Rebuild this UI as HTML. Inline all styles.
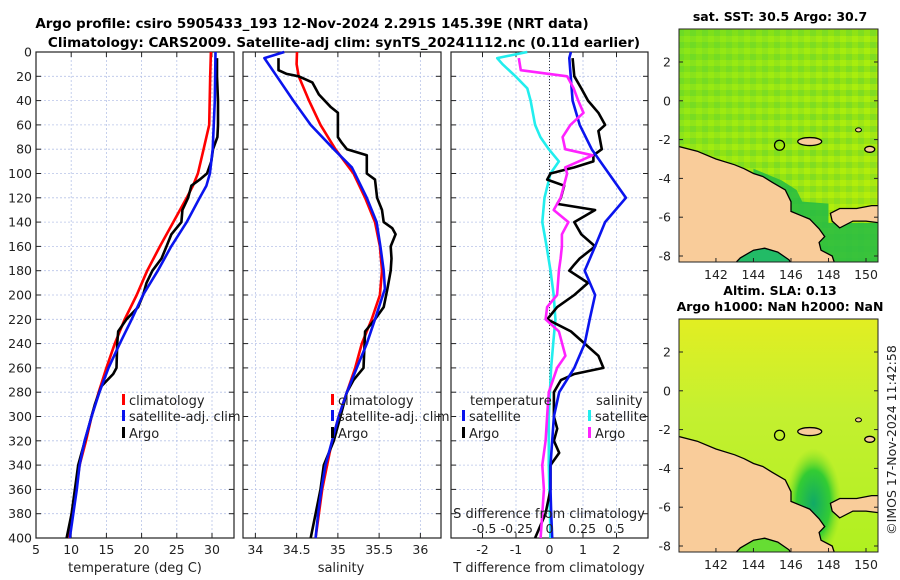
<!DOCTYPE html>
<html><head><meta charset="utf-8"><style>
body{margin:0;background:#fff}
svg{display:block;font-family:"DejaVu Sans","Liberation Sans",sans-serif}
</style></head><body>
<svg id="c" width="900" height="580" viewBox="0 0 900 580" xmlns="http://www.w3.org/2000/svg">
<defs>
<pattern id="sstpat" width="12" height="12" patternUnits="userSpaceOnUse">
<rect width="12" height="12" fill="#88e018"/><rect width="6" height="6" fill="#a6ee10"/><rect x="6" y="6" width="6" height="6" fill="#6fd82a"/><rect x="6" y="0" width="6" height="6" fill="#94e41c"/>
</pattern>
<linearGradient id="sstg" x1="0" y1="0" x2="1" y2="1"><stop offset="0" stop-color="#66dd22" stop-opacity="0.5"/><stop offset="0.6" stop-color="#bbee00" stop-opacity="0.2"/><stop offset="1" stop-color="#ddee00" stop-opacity="0.5"/></linearGradient>
<linearGradient id="slag" x1="0" y1="0" x2="0" y2="1"><stop offset="0" stop-color="#e2ee22"/><stop offset="0.4" stop-color="#c4f030"/><stop offset="1" stop-color="#b0f020"/></linearGradient>
<radialGradient id="slad" cx="0.5" cy="0.5" r="0.5"><stop offset="0" stop-color="#11aa66"/><stop offset="0.6" stop-color="#33cc33"/><stop offset="1" stop-color="#88e020" stop-opacity="0"/></radialGradient>
<clipPath id="cp1"><rect x="679" y="29" width="199" height="233"/></clipPath>
<clipPath id="cp2"><rect x="679" y="319" width="199" height="233"/></clipPath>
</defs>
<text x="312" y="28" text-anchor="middle" font-size="13.5" font-weight="bold">Argo profile: csiro 5905433_193 12-Nov-2024 2.291S 145.39E (NRT data)</text>
<text x="344" y="47" text-anchor="middle" font-size="13.5" font-weight="bold">Climatology: CARS2009. Satellite-adj clim: synTS_20241112.nc (0.11d earlier)</text>
<g id="g"></g>
</svg>
<script>
// depth values
const depthClim = [0,20,60,80,100,110,120,140,160,180,200,220,240,260,280,300,320,340,360,380,400];
const tempClim = [29.85,29.75,29.6,28.8,28,27.3,26.4,24.5,22.6,20.8,19.3,17.6,16.2,15.0,13.9,12.9,12.1,11.2,10.7,10.05,9.6];
const depthSat = [0,40,80,100,110,120,140,160,180,200,220,240,260,280,300,320,340,360,380,400];
const tempSat = [30.5,30.4,30.1,29.7,29.2,28.25,26.4,24.2,22.3,20.2,18.6,16.9,15.3,14.0,12.9,11.9,11.2,10.8,10.3,9.8];
const depthArgoT = [5,20,40,60,70,80,90,100,105,110,120,130,140,150,160,170,180,190,200,210,220,230,240,260,265,275,290,300,320,340,360,380,400];
const tempArgo = [30.71,30.71,30.85,30.85,30.76,30.14,29.9,29.29,28.25,27.07,26.6,25.8,25.65,24.23,23.53,22.82,21.54,20.69,20.22,19.5,17.85,16.67,16.53,16.44,15.96,14.31,13.36,12.89,11.95,11.0,10.53,10.06,9.35];
const depthSClim = [0,10,20,40,60,80,100,120,140,160,180,200,220,240,260,280,300,320,340,360,380,400];
const salClim = [34.505,34.5,34.525,34.65,34.79,34.97,35.19,35.33,35.45,35.51,35.535,35.51,35.41,35.29,35.21,35.11,35.01,34.93,34.87,34.81,34.77,34.73];
const depthSSat = [0,5,20,40,60,80,95,120,140,160,180,195,220,240,260,280,300,320,340,360,380,400];
const salSat = [34.35,34.11,34.26,34.46,34.67,34.95,35.17,35.35,35.47,35.515,35.555,35.57,35.45,35.35,35.23,35.11,35.01,34.93,34.85,34.8,34.76,34.73];
const depthSArgo = [5,15,18,20,25,35,45,50,70,75,80,85,100,105,120,130,140,145,150,160,170,180,195,210,220,230,260,270,280,300,320,340,360,380,400];
const salArgo = [34.28,34.28,34.38,34.525,34.69,34.77,34.91,35.0,35.0,35.05,35.11,35.35,35.35,35.45,35.475,35.535,35.555,35.66,35.70,35.64,35.65,35.64,35.6,35.555,35.45,35.33,35.31,35.19,35.11,35.03,34.95,34.83,34.79,34.73,34.67];
const depthDT = [0,5,40,60,80,100,120,140,160,180,200,220,240,260,280,300,320,340,360,380,400];
const tDiffSat = [0.64,0.59,0.69,0.9,1.26,1.77,2.28,1.66,1.36,1.05,1.36,1.2,1.05,0.74,0.29,0.13,0.08,0.03,0.03,0.05,0.08];
const depthDTA = [5,20,30,40,50,60,65,80,85,90,95,100,105,110,120,125,130,140,150,160,170,175,180,190,200,210,220,230,240,250,260,265,270,280,300,310,320,330,340,360,380,400];
const tDiffArgo = [0.69,0.74,0.95,1.15,1.46,1.66,1.46,1.56,1.31,1.31,0.74,0.03,-0.07,0.44,0.34,0.23,1.36,0.74,0.95,1.36,0.9,0.74,0.59,1.15,0.74,0.23,-0.07,0.64,1.05,1.46,1.61,0.74,0.34,0.13,0.13,0.23,0.13,0.29,0.03,0.03,-0.12,-0.43];
const depthDS = [0,5,10,20,30,40,60,70,80,90,100,120,140,160,180,200,220,240,260,280,300,340,400];
const sDiffSat = [-0.17,-0.4,-0.36,-0.26,-0.17,-0.145,-0.11,-0.07,-0.005,0.072,0.008,-0.038,-0.055,-0.022,0.008,0.032,0.045,0.028,0.012,0.003,-0.005,-0.005,0.008];
const depthDSA = [5,15,20,30,40,50,60,70,80,85,95,100,110,120,130,140,150,160,170,180,200,210,220,230,250,260,280,300,320,340,360,380,400];
const sDiffArgo = [-0.235,-0.22,0.135,0.185,0.22,0.26,0.16,0.1,0.12,0.33,0.12,0.135,0.11,0.085,0.032,0.145,0.095,0.095,0.085,0.072,0.058,-0.018,-0.03,0.072,0.122,0.058,-0.005,-0.018,-0.03,-0.055,-0.043,-0.055,-0.068];
const depthTicks = [0,20,40,60,80,100,120,140,160,180,200,220,240,260,280,300,320,340,360,380,400];
const tTicks = [5,10,15,20,25,30];
const sTicks = [34,34.5,35,35.5,36];
const dTicks = [-2,-1,0,1,2];
const sdTicks = [-0.5,-0.25,0,0.25,0.5];
const sdLabels = ["-0.5","-0.25","0","0.25","0.5"];
const latTicks = [2,0,-2,-4,-6,-8];
const lonTicks = [142,144,146,148,150];

const NS="http://www.w3.org/2000/svg";
const G=document.getElementById('g');
function mk(tag,attrs,parent){const e=document.createElementNS(NS,tag);for(const k in attrs)e.setAttribute(k,attrs[k]);(parent||G).appendChild(e);return e;}
function txt(x,y,s,size,anchor,parent){const e=mk('text',{x:x,y:y,'font-size':size,'text-anchor':anchor||'middle',fill:'#222'},parent);e.textContent=s;return e;}

const Y0=52,Y1=538;
const yD=d=>Y0+(d/400)*(Y1-Y0);
function panel(x0,x1,v0,v1,name){
  const xs=v=>x0+(v-v0)/(v1-v0)*(x1-x0);
  const g=mk('g',{});
  
  
  return {xs,g,x0,x1};
}
const P1=panel(36,234,5,33.125,'temperature-panel');
const P2=panel(243,441,33.85,36.25,'salinity-panel');
const P3=panel(451,648,-2.94,2.94,'difference-panel');
const sdx=s=>P3.xs(s*3.9);

function grid(P,ticks,labels,showY){
  ticks.forEach((t,i)=>{const x=P.xs(t);
    const l=mk('line',{x1:x,x2:x,y1:Y0,y2:Y1,stroke:'#b8c4e8','stroke-width':0.8,'stroke-dasharray':'2,2'},P.g);
    
    
    mk('line',{x1:x,x2:x,y1:Y1,y2:Y1-5,stroke:'#222'},P.g);mk('line',{x1:x,x2:x,y1:Y0,y2:Y0+5,stroke:'#222'},P.g);
    const tl=txt(x,554,labels?labels[i]:String(t),12.5,'middle',P.g);
    
    
  });
  depthTicks.forEach(d=>{const y=yD(d);
    mk('line',{x1:P.x0,x2:P.x1,y1:y,y2:y,stroke:'#b8c4e8','stroke-width':0.8,'stroke-dasharray':'2,2'},P.g);
    mk('line',{x1:P.x0,x2:P.x0+5,y1:y,y2:y,stroke:'#222'},P.g);mk('line',{x1:P.x1,x2:P.x1-5,y1:y,y2:y,stroke:'#222'},P.g);
    if(showY){const tl=txt(P.x0-4,y+4.5,String(d),12.5,'end',P.g);
      
      }
  });
  const fr=mk('rect',{x:P.x0,y:Y0,width:P.x1-P.x0,height:Y1-Y0,fill:'none',stroke:'#222','stroke-width':1.2},P.g);
  
  
}
grid(P1,tTicks,null,true);
grid(P2,sTicks,null,false);
grid(P3,dTicks,null,false);
mk('line',{x1:P3.xs(0),x2:P3.xs(0),y1:Y0,y2:Y1,stroke:'#333','stroke-width':1,'stroke-dasharray':'1,2'},P3.g);

function series(P,xf,depths,vals,color,name){
  const pts=depths.map((d,i)=>xf(vals[i]).toFixed(1)+','+yD(d).toFixed(1)).join(' ');
  const l=mk('polyline',{points:pts,fill:'none',stroke:color,'stroke-width':2.6,'stroke-linejoin':'round'},P.g);
  
  
}
series(P1,P1.xs,depthClim,tempClim,'#ff0000','temp-climatology-line');
series(P1,P1.xs,depthArgoT,tempArgo,'#000','temp-argo-line');
series(P1,P1.xs,depthSat,tempSat,'#0a14ee','temp-satellite-line');
series(P2,P2.xs,depthSClim,salClim,'#ff0000','sal-climatology-line');
series(P2,P2.xs,depthSArgo,salArgo,'#000','sal-argo-line');
series(P2,P2.xs,depthSSat,salSat,'#0a14ee','sal-satellite-line');
series(P3,sdx,depthDS,sDiffSat,'#22eeee','sdiff-satellite-line');
series(P3,P3.xs,depthDTA,tDiffArgo,'#000','tdiff-argo-line');
series(P3,P3.xs,depthDT,tDiffSat,'#0a14ee','tdiff-satellite-line');
series(P3,sdx,depthDSA,sDiffArgo,'#ff22ff','sdiff-argo-line');

// axis titles
[[135,'temperature (deg C)'],[341,'salinity'],[549,'T difference from climatology']].forEach(a=>{
  const t=txt(a[0],572,a[1],13);
  
  
});
const st=txt(549,518,'S difference from climatology',13);


sdTicks.forEach((s,i)=>{const t=txt(sdx(s),533,sdLabels[i],12.5);
  
  });

function legItem(x,y,color,label,P,name){
  mk('rect',{x:x,y:y-11,width:3,height:11,fill:color},P.g);
  const t=txt(x+7,y,label,13,'start',P.g);
  
  
}
legItem(122,405,'#ff0000','climatology',P1,'legend-climatology');
legItem(122,421,'#0a14ee','satellite-adj. clim',P1,'legend-satellite');
legItem(122,438,'#000','Argo',P1,'legend-argo');
legItem(331,405,'#ff0000','climatology',P2,'legend-climatology-sal');
legItem(331,421,'#0a14ee','satellite-adj. clim',P2,'legend-satellite-sal');
legItem(331,438,'#000','Argo',P2,'legend-argo-sal');
const lt=txt(470,405,'temperature',13,'start',P3.g);
const ls=txt(596,405,'salinity',13,'start',P3.g);
legItem(462,421,'#0a14ee','satellite',P3,'legend-tdiff-satellite');
legItem(462,438,'#000','Argo',P3,'legend-tdiff-argo');
legItem(588,421,'#22eeee','satellite',P3,'legend-sdiff-satellite');
legItem(588,438,'#ff22ff','Argo',P3,'legend-sdiff-argo');

// maps
const land=[[140,-2.35],[141,-2.6],[142,-3.0],[143,-3.3],[143.5,-3.5],[144,-3.75],[144.5,-3.9],[145,-4.2],[145.7,-4.6],[146,-5.2],[146,-5.7],[146.5,-5.9],[147,-6.1],[147.5,-6.6],[147.8,-7.0],[147.5,-7.3],[147.6,-7.7],[148.2,-8.0],[148.4,-8.6],[140,-8.6]];
const gulf=[[142.8,-8.6],[143.3,-8.1],[144,-7.7],[144.6,-7.6],[145.3,-7.8],[145.9,-8.2],[146.1,-8.6]];
const east=[[148.1,-5.8],[148.6,-5.55],[149.5,-5.55],[150.3,-5.4],[150.8,-5.4],[150.8,-6.3],[150,-6.2],[149.3,-6.2],[148.6,-6.55],[148.2,-6.2]];
function map(top,bottom,title,kind,name){
  const x0=679,x1=878,lonA=140.03,lonB=150.64;
  const latTop=2+(top-(kind?62:352))/(-19.4);
  const lx=l=>x0+(l-lonA)/(lonB-lonA)*(x1-x0);
  const ly=la=>top+(latTop-la)*19.4;
  const g=mk('g',{});
  
  
  const cg=mk('g',{'clip-path':kind?'url(#cp1)':'url(#cp2)'},g);
  if(kind){mk('rect',{x:x0,y:top,width:x1-x0,height:bottom-top,fill:'url(#sstpat)'},cg);
    mk('rect',{x:x0,y:top,width:x1-x0,height:bottom-top,fill:'url(#sstg)'},cg);
    mk('polygon',{points:[[144,-3.5],[145.5,-4.1],[146.3,-4.6],[146.6,-5.2],[148,-5.3],[148,-6.3],[150.7,-6.3],[150.7,-8.6],[144,-8.6]].map(p=>lx(p[0])+','+ly(p[1])).join(' '),fill:'#22bb44',opacity:0.85},cg);
  } else {mk('rect',{x:x0,y:top,width:x1-x0,height:bottom-top,fill:'url(#slag)'},cg);
    mk('ellipse',{cx:lx(147.2),cy:ly(-5.8),rx:28,ry:55,fill:'url(#slad)'},cg);}
  const poly=(pts,fill)=>mk('polygon',{points:pts.map(p=>lx(p[0]).toFixed(1)+','+ly(p[1]).toFixed(1)).join(' '),fill:fill,stroke:'#000','stroke-width':1.3},cg);
  poly(land,'#f9cc9a');
  poly(gulf,kind?'#22bb66':'#66dd33');
  poly(east,'#f9cc9a');
  mk('ellipse',{cx:lx(147),cy:ly(-2.1),rx:12,ry:4,fill:'#f9cc9a',stroke:'#000','stroke-width':1.3},cg);
  mk('ellipse',{cx:lx(150.2),cy:ly(-2.5),rx:5,ry:3,fill:'#f9cc9a',stroke:'#000','stroke-width':1.3},cg);
  mk('ellipse',{cx:lx(149.6),cy:ly(-1.5),rx:3,ry:2,fill:'#f9cc9a',stroke:'#000','stroke-width':1},cg);
  const c=mk('circle',{cx:lx(145.39),cy:ly(-2.291),r:5,fill:'none',stroke:'#000','stroke-width':1.3},cg);
  
  
  mk('rect',{x:x0,y:top,width:x1-x0,height:bottom-top,fill:'none',stroke:'#222'},g);
  latTicks.forEach(la=>{const y=ly(la);mk('line',{x1:x0,x2:x0+4,y1:y,y2:y,stroke:'#222'},g);mk('line',{x1:x1,x2:x1-4,y1:y,y2:y,stroke:'#222'},g);
    const t=txt(x0-8,y+4.5,String(la),12.5,'end',g);});
  lonTicks.forEach(lo=>{const x=lx(lo);mk('line',{x1:x,x2:x,y1:bottom,y2:bottom-4,stroke:'#222'},g);
    const t=txt(x,bottom+17,String(lo),12.5,'middle',g);});
  title.forEach((s,i)=>{const t=mk('text',{x:780,y:top-8-(title.length-1-i)*16,'font-size':12.5,'font-weight':'bold','text-anchor':'middle'},g);t.textContent=s;
    });
}
map(29,262,['sat. SST: 30.5 Argo: 30.7'],1,'sst-map');
map(319,552,['Altim. SLA: 0.13','Argo h1000: NaN h2000: NaN'],0,'sla-map');
const cr=mk('text',{x:896,y:440,'font-size':12.5,'text-anchor':'middle',transform:'rotate(-90 896 440)',fill:'#222'});
cr.textContent='©IMOS 17-Nov-2024 11:42:58';


</script>
</body></html>
